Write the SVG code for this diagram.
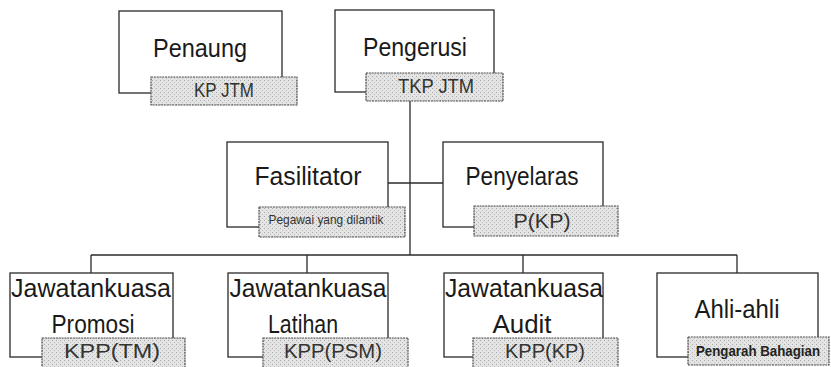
<svg xmlns="http://www.w3.org/2000/svg" width="831" height="367" viewBox="0 0 831 367">
  <defs>
    <pattern id="speck" width="4" height="4" patternUnits="userSpaceOnUse">
      <rect width="4" height="4" fill="#e4e4e4"/>
      <rect x="0" y="0" width="1" height="1" fill="#a8a8a8"/>
      <rect x="2" y="2" width="1" height="1" fill="#bdbdbd"/>
    </pattern>
  </defs>
  <style>
    .box { fill: #ffffff; stroke: #2a2a2a; stroke-width: 1.3; }
    .lab { fill: url(#speck); stroke: #4a4a4a; stroke-width: 1.2; stroke-dasharray: 2 0.8; }
    .t { font-family: "Liberation Sans", Arial, sans-serif; font-size: 25px; fill: #1a1a1a; text-anchor: middle; }
    .l { font-family: "Liberation Sans", Arial, sans-serif; font-size: 20px; fill: #333333; text-anchor: middle; }
    .s { font-family: "Liberation Sans", Arial, sans-serif; font-size: 13px; fill: #333333; text-anchor: middle; }
    .b { font-family: "Liberation Sans", Arial, sans-serif; font-size: 14px; font-weight: bold; fill: #222222; text-anchor: middle; }
    .c { fill: none; stroke: #2a2a2a; stroke-width: 1.3; }
  </style>

  <g id="connectors">
    <line class="c" x1="410" y1="101" x2="410" y2="255"/>
    <line class="c" x1="388" y1="183" x2="443" y2="183"/>
    <line class="c" x1="91" y1="255" x2="737" y2="255"/>
    <line class="c" x1="91" y1="255" x2="91" y2="273"/>
    <line class="c" x1="307" y1="255" x2="307" y2="273"/>
    <line class="c" x1="523" y1="255" x2="523" y2="273"/>
    <line class="c" x1="737" y1="255" x2="737" y2="273"/>
  </g>

  <g id="penaung">
    <rect class="box" x="119" y="11" width="163" height="82"/>
    <text class="t" x="200" y="57" textLength="94" lengthAdjust="spacingAndGlyphs">Penaung</text>
    <rect class="lab" x="151" y="77" width="146" height="28"/>
    <text class="l" x="224" y="97" textLength="60" lengthAdjust="spacingAndGlyphs">KP JTM</text>
  </g>

  <g id="pengerusi">
    <rect class="box" x="335" y="10" width="159" height="82"/>
    <text class="t" x="415" y="56" textLength="104" lengthAdjust="spacingAndGlyphs">Pengerusi</text>
    <rect class="lab" x="366" y="73" width="137" height="28"/>
    <text class="l" x="436" y="93" textLength="76" lengthAdjust="spacingAndGlyphs">TKP JTM</text>
  </g>

  <g id="fasilitator">
    <rect class="box" x="227" y="142" width="161" height="85"/>
    <text class="t" x="308" y="185" textLength="107" lengthAdjust="spacingAndGlyphs">Fasilitator</text>
    <rect class="lab" x="259" y="207" width="146" height="30"/>
    <text class="s" x="326" y="224" textLength="115" lengthAdjust="spacingAndGlyphs">Pegawai yang dilantik</text>
  </g>

  <g id="penyelaras">
    <rect class="box" x="443" y="142" width="160" height="85"/>
    <text class="t" x="522" y="185" textLength="113" lengthAdjust="spacingAndGlyphs">Penyelaras</text>
    <rect class="lab" x="474" y="206" width="144" height="30"/>
    <text class="l" x="542" y="228" font-size="21" textLength="57" lengthAdjust="spacingAndGlyphs">P(KP)</text>
  </g>

  <g id="jk-promosi">
    <rect class="box" x="10" y="273" width="163" height="84"/>
    <text class="t" x="91" y="297" textLength="160" lengthAdjust="spacingAndGlyphs">Jawatankuasa</text>
    <text class="t" x="93" y="333" textLength="83" lengthAdjust="spacingAndGlyphs">Promosi</text>
    <rect class="lab" x="42" y="338" width="143" height="32"/>
    <text class="l" x="112" y="358" textLength="96" lengthAdjust="spacingAndGlyphs">KPP(TM)</text>
  </g>

  <g id="jk-latihan">
    <rect class="box" x="228" y="273" width="160" height="84"/>
    <text class="t" x="308" y="297" textLength="157" lengthAdjust="spacingAndGlyphs">Jawatankuasa</text>
    <text class="t" x="303" y="333" textLength="70" lengthAdjust="spacingAndGlyphs">Latihan</text>
    <rect class="lab" x="263" y="338" width="145" height="32"/>
    <text class="l" x="333" y="358" textLength="98" lengthAdjust="spacingAndGlyphs">KPP(PSM)</text>
  </g>

  <g id="jk-audit">
    <rect class="box" x="444" y="273" width="159" height="84"/>
    <text class="t" x="524" y="297" textLength="158" lengthAdjust="spacingAndGlyphs">Jawatankuasa</text>
    <text class="t" x="522" y="333" textLength="59" lengthAdjust="spacingAndGlyphs">Audit</text>
    <rect class="lab" x="473" y="338" width="145" height="32"/>
    <text class="l" x="545" y="358" textLength="80" lengthAdjust="spacingAndGlyphs">KPP(KP)</text>
  </g>

  <g id="ahli-ahli">
    <rect class="box" x="657" y="273" width="161" height="84"/>
    <text class="t" x="737" y="318" textLength="85" lengthAdjust="spacingAndGlyphs">Ahli-ahli</text>
    <rect class="lab" x="688" y="337" width="141" height="28"/>
    <text class="b" x="758" y="356" textLength="124" lengthAdjust="spacingAndGlyphs">Pengarah Bahagian</text>
  </g>
</svg>
